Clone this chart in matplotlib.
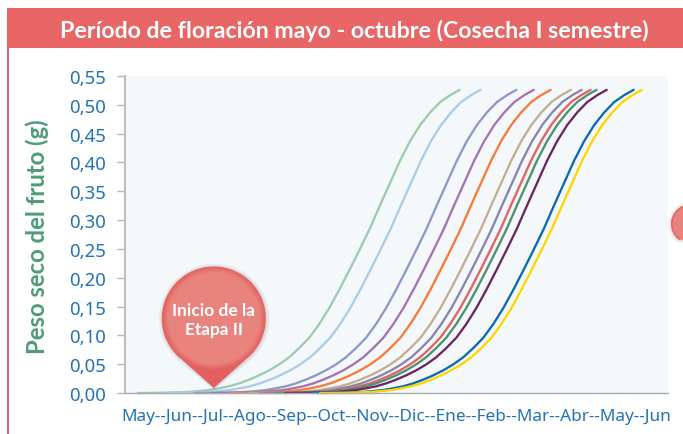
import numpy as np
import matplotlib
matplotlib.use("Agg")
import matplotlib.pyplot as plt
from matplotlib.path import Path
from matplotlib.patches import PathPatch, Rectangle

W, H = 683, 435
TITLE = "Período de floración mayo - octubre (Cosecha I semestre)"
YLABEL = "Peso seco del fruto (g)"
MARKER_TEXT = "Inicio de la\nEtapa II"
months = ["May", "Jun", "Jul", "Ago", "Sep", "Oct", "Nov", "Dic", "Ene", "Feb", "Mar", "Abr", "May", "Jun"]
yticks = [0, 0.05, 0.10, 0.15, 0.20, 0.25, 0.30, 0.35, 0.40, 0.45, 0.50, 0.55]

# months elapsed since each curve's start, and the fruit dry weight (g)
growth_months = [0, .25, .5, .75, 1, 1.25, 1.5, 1.75, 2, 2.25, 2.5, 2.75, 3, 3.25, 3.5, 3.75, 4,
                 4.25, 4.5, 4.75, 5, 5.25, 5.5, 5.75, 6, 6.25, 6.5, 6.75, 7, 7.25, 7.5, 7.75, 7.98]
growth_weight = [0, .0001, .0003, .0006, .0012, .0018, .0032, .005, .008, .0115, .0165, .023, .0305,
                 .0392, .0495, .062, .078, .096, .120, .148, .180, .214, .249, .285, .325, .364,
                 .403, .437, .465, .487, .505, .517, .526]
# month position where each curve starts
start_month = [0.10, 0.62, 1.51, 1.94, 2.36, 2.86, 3.13, 3.35, 3.50, 3.75, 4.42, 4.62]
colors = ["#9DCBAF", "#A9CDE8", "#8E97CB", "#A374B0", "#F47B3A", "#C4AE8E",
          "#8585B0", "#E4625F", "#4B926F", "#6B2560", "#0B69B0", "#FFD500"]
marker_month = 1.98

RED = "#E86666"
BLUE = "#2272B9"

fig = plt.figure(figsize=(W / 100, H / 100), dpi=100, facecolor="white")

# page furniture in pixel coordinates
bg = fig.add_axes([0, 0, 1, 1], zorder=0)
bg.set_xlim(0, W); bg.set_ylim(H, 0); bg.axis("off")
bg.add_patch(Rectangle((7, 9), W - 7, 40, fc=RED, ec="none"))
bg.add_patch(Rectangle((7, 49), 2.2, H - 49, fc=RED, ec="none"))
bg.text(354, 30.5, TITLE, color="white", ha="center", va="center",
        fontsize=16.65, fontweight="bold", family="Lato")

# chart
L, R, T, B = 125, 668, 77, 394
ax = fig.add_axes([L / W, 1 - B / H, (R - L) / W, (B - T) / H], zorder=1)
ax.set_facecolor("#F4F8FB")
m0, dm = 134, 40.3
ax.set_xlim((L - m0) / dm, (R - m0) / dm)
ax.set_ylim(0, 0.55)
for s, c in zip(start_month, colors):
    ax.plot(np.array(growth_months) + s, growth_weight, color=c, lw=1.65,
            solid_capstyle="round", solid_joinstyle="round", clip_on=False)
ax.spines["top"].set_visible(False)
ax.spines["right"].set_visible(False)
ax.spines["left"].set_color("#BDBDBD"); ax.spines["left"].set_linewidth(1.5)
ax.spines["bottom"].set_color("#A8ABAE"); ax.spines["bottom"].set_linewidth(1.0)
ax.set_yticks(yticks)
ax.set_yticklabels([f"{v:.2f}".replace(".", ",") for v in yticks], color=BLUE,
                   fontsize=13.4, family="Noto Sans")
ax.tick_params(axis="y", length=6, width=1, color="#B5B5B5", pad=8)
ax.set_xticks([])
bg.text(396, 417, "--".join(months), color=BLUE, ha="center", va="center",
        fontsize=12.35, family="Noto Sans")
bg.text(37, 237, YLABEL, color="#4F9C79", rotation=90, ha="center", va="center",
        fontsize=17.2, fontweight="bold", family="Lato")

# callout pins, on top of everything
top = fig.add_axes([0, 0, 1, 1], zorder=3)
top.patch.set_alpha(0)


def pin_path(cx, cy, r, tip):
    ang = np.deg2rad(np.linspace(128, 412, 220))  # screen angles, leaving the lower wedge open
    pts = [(cx + r * np.cos(x), cy + r * np.sin(x)) for x in ang]
    if tip:
        pts.append((cx, tip))
    pts.append(pts[0])
    return Path(pts, closed=True)


def pin(cx, cy, r, tip=None):
    for k in range(5, 0, -1):
        sh = pin_path(cx + 0.5, cy + 0.5, r + k * 0.7, (tip + k * 0.5) if tip else None)
        top.add_patch(PathPatch(sh, fc="#5a3030", ec="none", alpha=0.03))
    p = pin_path(cx, cy, r, tip)
    size = int(r * 2 + 40)
    xs = np.linspace(cx - r - 10, cx + r + 10, size)
    ys = np.linspace(cy - r - 10, cy + r + 30, size)
    X, Y = np.meshgrid(xs, ys)
    D = np.hypot(X - cx, Y - cy) / r
    inner = np.array(matplotlib.colors.to_rgb("#E9837E"))
    outer = np.array(matplotlib.colors.to_rgb("#E36060"))
    f = (np.clip((D - 0.88) / 0.12, 0, 1))[..., None]
    img = inner * (1 - f) + outer * f
    im = top.imshow(img, extent=(xs[0], xs[-1], ys[-1], ys[0]), aspect="auto", zorder=2, interpolation="bilinear")
    patch = PathPatch(p, fc="none", ec="none", transform=top.transData)
    top.add_patch(patch)
    im.set_clip_path(patch)


tip_x = ax.transData.transform((marker_month, 0))[0] * W / fig.bbox.width
pin(tip_x, 319.5, 52, tip=389)
top.text(tip_x, 320.5, MARKER_TEXT, color="white", ha="center", va="center", fontsize=12.4,
         fontweight="bold", family="Lato", linespacing=1.2, zorder=5)
pin(691, 225, 20)
top.set_xlim(0, W); top.set_ylim(H, 0); top.axis("off")

fig.savefig("out.png", dpi=100)
